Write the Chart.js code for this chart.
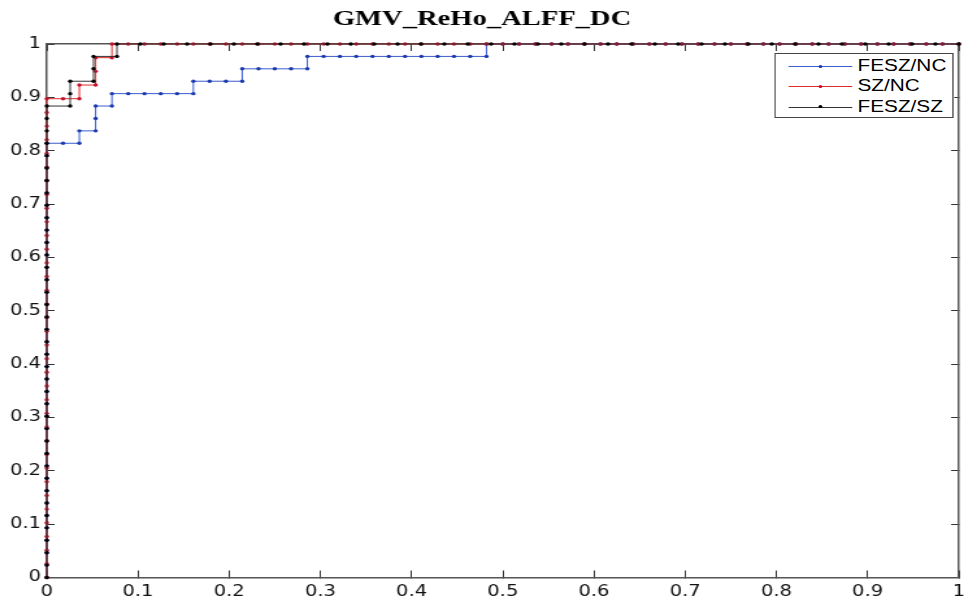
<!DOCTYPE html>
<html>
<head>
<meta charset="utf-8">
<title>GMV_ReHo_ALFF_DC</title>
<script src="https://cdn.jsdelivr.net/npm/chart.js@4.4.1/dist/chart.umd.min.js"></script>
<style>
	html, body { margin: 0; padding: 0; background: #fff; overflow: hidden; }
	/* the source figure is stretched sideways, so the stage is drawn narrow and widened */
	#stage { position: absolute; left: 0; top: 0; width: 742px; height: 600px; transform: scaleX(1.2992); transform-origin: 0 0; }
	#roc { display: block; }
	#legend { position: absolute; left: 596px; top: 53px; width: 138px; height: 65px; box-sizing: border-box;
		border: 1px solid #444; background: #fff; font: 16px "Liberation Sans", Arial, sans-serif; color: #000; }
	#legend .row { position: absolute; left: 0; right: 0; height: 20px; line-height: 20px; }
	#legend .sample { position: absolute; left: 10px; top: 10px; width: 49px; height: 0; border-top: 1px solid; }
	#legend .dot { position: absolute; left: 33px; top: 8.5px; width: 3.4px; height: 3.4px; border-radius: 50%; }
	#legend .txt { position: absolute; left: 63px; top: 0; white-space: nowrap; }
</style>
</head>
<body>
<div id="stage">
	<canvas id="roc"></canvas>
	<div id="legend"></div>
</div>
<script>
(function() {
	'use strict';

	const chartTitle = 'GMV_ReHo_ALFF_DC';
	const seriesLabels = ['FESZ/NC', 'SZ/NC', 'FESZ/SZ'];
	const xTickLabels = ['0', '0.1', '0.2', '0.3', '0.4', '0.5', '0.6', '0.7', '0.8', '0.9', '1'];
	const yTickLabels = ['0', '0.1', '0.2', '0.3', '0.4', '0.5', '0.6', '0.7', '0.8', '0.9', '1'];

	const nNC = 56;
	const nSZ = 39;
	const nFESZ = 43;

	// FESZ vs NC: false positive / true positive counts per curve point
	const feszNcFP = [
		0,0,0,0,0,0,0,0,0,0,0,0,
		0,0,0,0,0,0,0,0,0,0,0,0,
		0,0,0,0,0,0,0,0,0,0,0,0,
		1,2,2,3,3,3,4,4,5,6,7,8,9,9,10,11,12,12,13,14,15,16,16,
		17,18,19,20,21,22,23,24,25,26,27,27,
		28,29,30,31,32,33,34,35,36,37,38,39,40,41,42,
		43,44,45,46,47,48,49,50,51,52,53,54,55,56
	];
	const feszNcTP = [
		0,1,2,3,4,5,6,7,8,9,10,11,
		12,13,14,15,16,17,18,19,20,21,22,23,
		24,25,26,27,28,29,30,31,32,33,34,35,
		35,35,36,36,37,38,38,39,39,39,39,39,39,40,40,40,40,41,41,41,41,41,42,
		42,42,42,42,42,42,42,42,42,42,42,43,
		43,43,43,43,43,43,43,43,43,43,43,43,43,43,43,
		43,43,43,43,43,43,43,43,43,43,43,43,43,43
	];

	// SZ vs NC
	const szNcFP = [
		0,0,0,0,0,0,0,0,0,0,0,0,
		0,0,0,0,0,0,0,0,0,0,0,0,
		0,0,0,0,0,0,0,0,0,0,0,0,
		1,2,2,3,3,3,4,4,
		5,6,7,8,9,10,11,12,13,14,15,16,17,
		18,19,20,21,22,23,24,25,26,27,28,29,30,
		31,32,33,34,35,36,37,38,39,40,41,42,43,
		44,45,46,47,48,49,50,51,52,53,54,55,56
	];
	const szNcTP = [
		0,1,2,3,4,5,6,7,8,9,10,11,
		12,13,14,15,16,17,18,19,20,21,22,23,
		24,25,26,27,28,29,30,31,32,33,34,35,
		35,35,36,36,37,38,38,39,
		39,39,39,39,39,39,39,39,39,39,39,39,39,
		39,39,39,39,39,39,39,39,39,39,39,39,39,
		39,39,39,39,39,39,39,39,39,39,39,39,39,
		39,39,39,39,39,39,39,39,39,39,39,39,39
	];

	// FESZ vs SZ
	const feszSzFP = [
		0,0,0,0,0,0,0,0,0,0,0,0,0,
		0,0,0,0,0,0,0,0,0,0,0,0,0,
		0,0,0,0,0,0,0,0,0,0,0,0,0,
		1,1,1,2,2,2,3,3,
		4,5,6,7,8,9,10,11,12,13,14,15,
		16,17,18,19,20,21,22,23,24,25,26,27,
		28,29,30,31,32,33,34,35,36,37,38,39
	];
	const feszSzTP = [
		0,1,2,3,4,5,6,7,8,9,10,11,12,
		13,14,15,16,17,18,19,20,21,22,23,24,25,
		26,27,28,29,30,31,32,33,34,35,36,37,38,
		38,39,40,40,41,42,42,43,
		43,43,43,43,43,43,43,43,43,43,43,43,
		43,43,43,43,43,43,43,43,43,43,43,43,
		43,43,43,43,43,43,43,43,43,43,43,43
	];

	const lineColors = ['#3a5cd0', '#e02a2a', '#333333'];
	const pointColors = ['#1b3aae', '#c3102c', '#000000'];
	const tickFont = { family: '"DejaVu Sans", "Liberation Sans", sans-serif', size: 15 };

	function toPoints(fp, tp, nNeg, nPos) {
		return fp.map((f, i) => ({ x: f / nNeg, y: tp[i] / nPos }));
	}

	const curves = [
		toPoints(feszNcFP, feszNcTP, nNC, nFESZ),
		toPoints(szNcFP, szNcTP, nNC, nSZ),
		toPoints(feszSzFP, feszSzTP, nSZ, nFESZ)
	];

	const datasets = curves.map((pts, i) => ({
		label: seriesLabels[i],
		data: pts,
		showLine: true,
		borderColor: lineColors[i],
		backgroundColor: pointColors[i],
		borderWidth: 1,
		pointRadius: 1.7,
		pointBorderWidth: 0,
		pointBackgroundColor: pointColors[i],
		tension: 0,
		clip: false,
		order: 3 - i
	}));

	function noPad(s) {
		s.paddingLeft = 0; s.paddingRight = 0; s.paddingTop = 0; s.paddingBottom = 0;
	}

	const axisBorder = { color: '#555', width: 1.5 };

	new Chart(document.getElementById('roc').getContext('2d'), {
		type: 'scatter',
		data: { datasets },
		options: {
			responsive: true,
			maintainAspectRatio: false,
			animation: false,
			events: [],
			layout: { padding: 0 },
			plugins: {
				legend: { display: false },
				tooltip: { enabled: false },
				title: {
					display: true,
					text: chartTitle,
					color: '#000',
					font: { family: '"Liberation Serif", "Times New Roman", serif', size: 22, weight: 'bold' },
					padding: { top: 6, bottom: 11.6 }
				}
			},
			scales: {
				x: {
					type: 'linear', position: 'bottom', min: 0, max: 1,
					ticks: { stepSize: 0.1, autoSkip: false, maxRotation: 0, padding: 12.5, color: '#111', font: tickFont,
						callback: (v, i) => xTickLabels[i] },
					grid: { drawOnChartArea: false, tickLength: -7, color: '#333', lineWidth: 1 },
					border: axisBorder,
					afterFit: s => { s.height = 22.5; noPad(s); }
				},
				x2: {
					type: 'linear', position: 'top', min: 0, max: 1,
					ticks: { stepSize: 0.1, display: false },
					grid: { drawOnChartArea: false, tickLength: -7, color: '#333', lineWidth: 1 },
					border: axisBorder,
					afterFit: s => { s.height = 0; noPad(s); }
				},
				y: {
					type: 'linear', position: 'left', min: 0, max: 1,
					ticks: { stepSize: 0.1, autoSkip: false, padding: 10.5, color: '#111', font: tickFont,
						callback: (v, i) => yTickLabels[i] },
					grid: { drawOnChartArea: false, tickLength: -6, color: '#333', lineWidth: 1 },
					border: axisBorder,
					afterFit: s => { s.width = 36; noPad(s); }
				},
				y2: {
					type: 'linear', position: 'right', min: 0, max: 1,
					ticks: { stepSize: 0.1, display: false },
					grid: { drawOnChartArea: false, tickLength: -6, color: '#333', lineWidth: 1 },
					border: axisBorder,
					afterFit: s => { s.width = 0; noPad(s); }
				}
			}
		}
	});

	// MATLAB style boxed legend
	const legend = document.getElementById('legend');
	seriesLabels.forEach((label, i) => {
		const row = document.createElement('div');
		row.className = 'row';
		row.style.top = (2 + i * 20.3) + 'px';
		row.innerHTML = '<span class="sample" style="border-color:' + lineColors[i] + '"></span>' +
			'<span class="dot" style="background:' + pointColors[i] + '"></span>' +
			'<span class="txt">' + label + '</span>';
		legend.appendChild(row);
	});
})();
</script>
</body>
</html>
